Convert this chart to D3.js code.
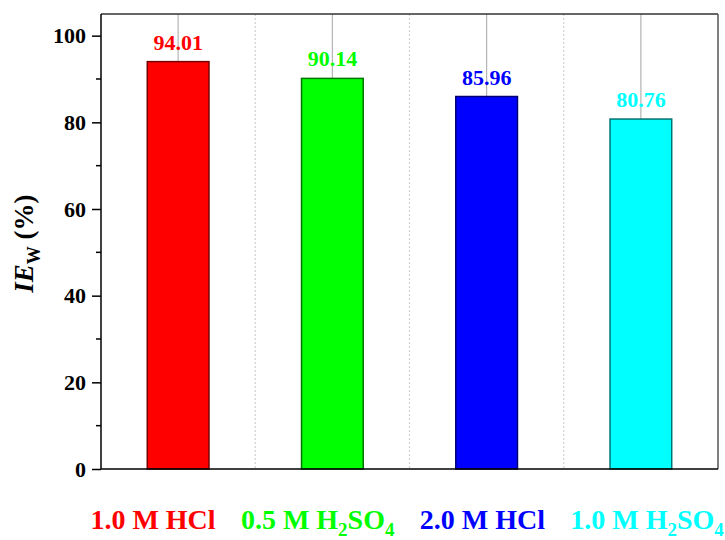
<!DOCTYPE html>
<html>
<head>
<meta charset="utf-8">
<script src="https://cdn.jsdelivr.net/npm/d3@7"></script>
<style>
  body { margin: 0; background: #fff; }
</style>
</head>
<body>
<svg id="chart" width="725" height="540"></svg>
<script>
// ---- data ----
const categories = ["1.0 M HCl", "0.5 M H2SO4", "2.0 M HCl", "1.0 M H2SO4"];
const values = [94.01, 90.14, 85.96, 80.76];
const valueLabels = ["94.01", "90.14", "85.96", "80.76"];
const colors = ["#ff0000", "#00ff00", "#0000ff", "#00ffff"];
const majorTicks = [0, 20, 40, 60, 80, 100];
const minorTicks = [10, 30, 50, 70, 90];
// label parts: [text, isSubscript]
const labelParts = [
  [["1.0 M HCl", false]],
  [["0.5 M H", false], ["2", true], ["SO", false], ["4", true]],
  [["2.0 M HCl", false]],
  [["1.0 M H", false], ["2", true], ["SO", false], ["4", true]]
];

const FONT = "'Liberation Serif', 'Times New Roman', Tinos, 'DejaVu Serif', serif";

// ---- layout ----
const margin = { left: 101, top: 14, right: 7, bottom: 71 };
const W = 725, H = 540;
const pw = W - margin.left - margin.right;
const ph = H - margin.top - margin.bottom;

const svg = d3.select("#chart");
const g = svg.append("g").attr("transform", `translate(${margin.left},${margin.top})`);

const x = d3.scaleBand().domain(categories).range([0, pw]).paddingInner(0).paddingOuter(0);
const y = d3.scaleLinear().domain([0, 105]).range([ph, 0]);
const barW = x.bandwidth() * 0.4;

// dotted separators between categories
g.selectAll(".sep").data(categories.slice(1)).enter().append("line")
  .attr("x1", d => x(d)).attr("x2", d => x(d))
  .attr("y1", 0).attr("y2", ph)
  .attr("stroke", "#cfcfcf").attr("stroke-width", 1.2).attr("stroke-dasharray", "2,2");

// gray center lines
g.selectAll(".cl").data(categories).enter().append("line")
  .attr("x1", d => x(d) + x.bandwidth() / 2).attr("x2", d => x(d) + x.bandwidth() / 2)
  .attr("y1", 0).attr("y2", (d, i) => y(values[i]))
  .attr("stroke", "#b4b4b4").attr("stroke-width", 1.2);

// bars
g.selectAll(".bar").data(categories).enter().append("rect")
  .attr("x", d => x(d) + (x.bandwidth() - barW) / 2)
  .attr("y", (d, i) => y(values[i]))
  .attr("width", barW)
  .attr("height", (d, i) => ph - y(values[i]))
  .attr("fill", (d, i) => colors[i])
  .attr("stroke", (d, i) => d3.color(colors[i]).darker(2.2))
  .attr("stroke-width", 1.5);

// value labels
g.selectAll(".vl").data(categories).enter().append("text")
  .attr("x", d => x(d) + x.bandwidth() / 2)
  .attr("y", (d, i) => y(values[i]) - 12)
  .attr("text-anchor", "middle")
  .style("font-family", FONT).style("font-weight", "bold").style("font-size", "22px")
  .attr("fill", (d, i) => colors[i])
  .text((d, i) => valueLabels[i]);

// frame top/right
g.append("line").attr("x1", 0).attr("x2", pw).attr("y1", 0).attr("y2", 0)
  .attr("stroke", "#333").attr("stroke-width", 1.5);
g.append("line").attr("x1", pw).attr("x2", pw).attr("y1", 0).attr("y2", ph)
  .attr("stroke", "#555").attr("stroke-width", 1.5);

// y axis
const yAxis = d3.axisLeft(y).tickValues(majorTicks).tickSize(9).tickPadding(6);
const ya = g.append("g").call(yAxis);
ya.select(".domain").attr("stroke", "#000").attr("stroke-width", 1.5).attr("d", `M0,${ph}V0`);
ya.selectAll(".tick line").attr("stroke", "#000").attr("stroke-width", 1.5);
ya.selectAll(".tick text").attr("fill", "#000")
  .style("font-family", FONT).style("font-weight", "bold").style("font-size", "22px");
// minor ticks
g.selectAll(".mt").data(minorTicks).enter().append("line")
  .attr("x1", -5).attr("x2", 0)
  .attr("y1", d => y(d)).attr("y2", d => y(d))
  .attr("stroke", "#000").attr("stroke-width", 1.5);

// bottom axis line
g.append("line").attr("x1", 0).attr("x2", pw).attr("y1", ph).attr("y2", ph)
  .attr("stroke", "#000").attr("stroke-width", 1.5);

// x category labels (evenly spread row)
const lx = d3.scalePoint().domain(categories).range([153 - margin.left, 647 - margin.left]);
categories.forEach((c, i) => {
  const t = g.append("text")
    .attr("x", lx(c)).attr("y", ph + 60)
    .attr("text-anchor", "middle")
    .style("font-family", FONT).style("font-weight", "bold").style("font-size", "28px")
    .attr("fill", colors[i]);
  labelParts[i].forEach(([s, sub], k) => {
    const ts = t.append("tspan").text(s);
    if (sub) ts.style("font-size", "19px").attr("dy", 7);
    else if (k > 0) ts.attr("dy", -7);
  });
});

// y axis title
const yt = svg.append("text")
  .attr("transform", `translate(33,${margin.top + y(52)}) rotate(-90)`)
  .attr("text-anchor", "middle")
  .style("font-family", FONT).style("font-weight", "bold").style("font-size", "27px")
  .attr("fill", "#000");
yt.append("tspan").style("font-style", "italic").text("IE");
yt.append("tspan").style("font-size", "18px").attr("dy", 7).text("W");
yt.append("tspan").attr("dy", -7).text(" (%)");
</script>
</body>
</html>
